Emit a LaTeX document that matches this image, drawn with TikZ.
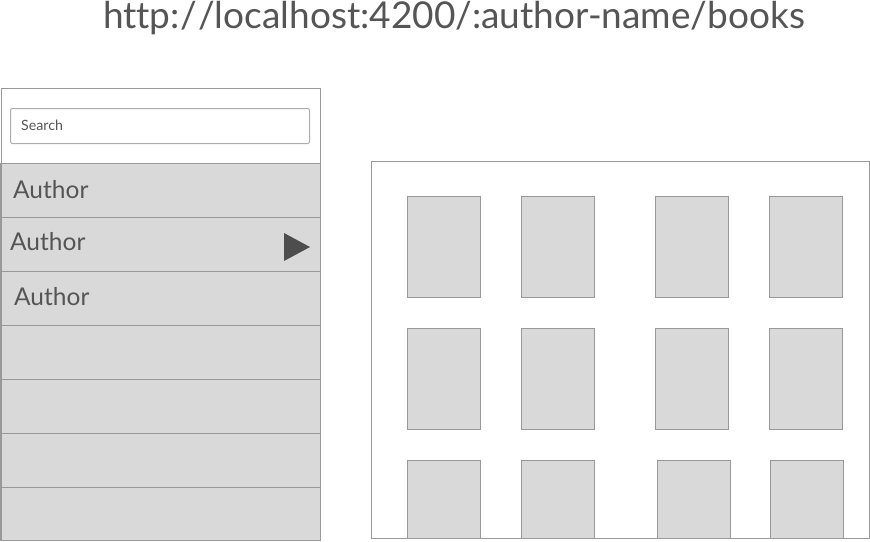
\documentclass[tikz,border=0pt]{standalone}
\usepackage{fontspec}
\setmainfont{Lato}[Ligatures={NoCommon}]
\begin{document}
\begin{tikzpicture}[x=1pt,y=-1pt,
  frame/.style={draw=framegray,line width=1pt},
  row/.style={draw=framegray,fill=cellgray,line width=1.2pt,inner sep=0pt,minimum width=319pt,minimum height=54pt,anchor=north west},
  book/.style={draw=framegray,fill=cellgray,line width=1pt,inner sep=0pt,minimum width=73pt,minimum height=101pt,anchor=north west},
  lowbook/.style={book,minimum height=78pt},
  label/.style={text=textgray,font=\fontsize{24.5}{28}\selectfont,anchor=base west,inner sep=0pt}]
\definecolor{framegray}{HTML}{999999}
\definecolor{cellgray}{HTML}{D9D9D9}
\definecolor{textgray}{HTML}{555555}
\definecolor{arrowgray}{HTML}{4D4D4D}
\useasboundingbox (0,0) rectangle (870,541);

% address line
\node[text=textgray,font=\fontsize{37}{42}\selectfont,inner sep=0pt,anchor=base] (url) at (454,28) {ht{}tp:/\kern1.5pt/localhost:4200/:author-name/books};

% author list panel
\node[frame,fill=white,inner sep=0pt,minimum width=319pt,minimum height=75pt,anchor=north west] (header) at (0.5,88) {};
\node[draw=framegray!80,line width=1pt,rounded corners=2pt,inner sep=0pt,minimum width=299pt,minimum height=35pt,anchor=north west] (search) at (10,108) {};
\node[text=textgray,font=\fontsize{14.2}{16}\selectfont,anchor=base west,inner sep=0pt] (searchtext) at (21,130) {Search};

\node[row] (r1) at (0.5,163) {};
\node[row] (r2) at (0.5,217) {};
\node[row] (r3) at (0.5,271) {};
\node[row] (r4) at (0.5,325) {};
\node[row] (r5) at (0.5,379) {};
\node[row] (r6) at (0.5,433) {};
\node[row,minimum height=53pt] (r7) at (0.5,487) {};

\node[label] (a1) at (13,198) {Author};
\node[label] (a2) at (10,250) {Author};
\node[label] (a3) at (14,305) {Author};

% selection marker
\fill[arrowgray] (284,233) -- (310,247) -- (284,261) -- cycle;

% book grid panel
\node[frame,fill=white,inner sep=0pt,minimum width=498pt,minimum height=377pt,anchor=north west] (grid) at (370.5,161) {};

\node[book] (b11) at (407,196) {};
\node[book] (b12) at (521,196) {};
\node[book] (b13) at (655,196) {};
\node[book] (b14) at (769,196) {};

\node[book] (b21) at (407,328) {};
\node[book] (b22) at (521,328) {};
\node[book] (b23) at (655,328) {};
\node[book] (b24) at (769,328) {};

\node[lowbook] (b31) at (407,460) {};
\node[lowbook] (b32) at (521,460) {};
\node[lowbook] (b33) at (657,460) {};
\node[lowbook] (b34) at (770,460) {};
\end{tikzpicture}
\end{document}
